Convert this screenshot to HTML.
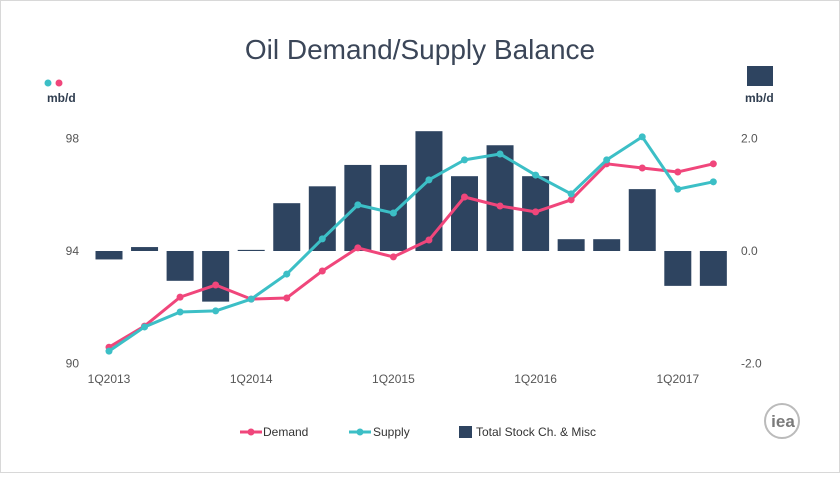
<!DOCTYPE html>
<html><head><meta charset="utf-8"><style>
body{margin:0;background:#fff;font-family:"Liberation Sans",sans-serif;}
#wrap{position:relative;width:838px;height:471px;border:1px solid #d8d8d8;background:#fff;}
</style></head><body>
<div id="wrap">
<svg id="chart" width="838" height="471" xmlns="http://www.w3.org/2000/svg"></svg>
</div>
<script>
const categories=["1Q2013","2Q2013","3Q2013","4Q2013","1Q2014","2Q2014","3Q2014","4Q2014","1Q2015","2Q2015","3Q2015","4Q2015","1Q2016","2Q2016","3Q2016","4Q2016","1Q2017","2Q2017"];
const demand=[90.58,91.33,92.36,92.79,92.29,92.33,93.29,94.11,93.79,94.39,95.92,95.6,95.39,95.82,97.1,96.95,96.81,97.1];
const supply=[90.44,91.3,91.83,91.87,92.29,93.18,94.43,95.64,95.35,96.53,97.24,97.45,96.7,96.03,97.24,98.06,96.2,96.46];
const stockChange=[-0.15,0.07,-0.53,-0.9,0.02,0.85,1.15,1.53,1.53,2.13,1.33,1.88,1.33,0.21,0.21,1.1,-0.62,-0.62];
const leftTicks=[90,94,98];
const rightTicks=[-2.0,0.0,2.0];
const xTickLabels=["1Q2013","1Q2014","1Q2015","1Q2016","1Q2017"];

const svg=document.getElementById('chart');
const NS="http://www.w3.org/2000/svg";
function mk(tag,attrs,name,txt){const e=document.createElementNS(NS,tag);for(const k in attrs)e.setAttribute(k,attrs[k]);


if(txt!==undefined)e.textContent=txt;svg.appendChild(e);return e;}
const x0=108,dx=35.55;
const xs=i=>x0+i*dx;
const yL=v=>250-(v-94)*28.125;
const yR=v=>250-v*56.25;

mk('text',{x:419,y:58,'text-anchor':'middle','font-size':28,fill:'#3b4658'},'chart-title','Oil Demand/Supply Balance');
mk('text',{x:46,y:101,'font-size':12,'font-weight':'bold',fill:'#2f3d4f'},'left-axis-unit','mb/d');
mk('text',{x:744,y:101,'font-size':12,'font-weight':'bold',fill:'#2f3d4f'},'right-axis-unit','mb/d');
mk('circle',{cx:47,cy:82,r:3.5,fill:'#3cbfc6'},'left-unit-supply-dot');
mk('circle',{cx:58,cy:82,r:3.5,fill:'#f0467b'},'left-unit-demand-dot');
mk('rect',{x:746,y:65,width:26,height:20,fill:'#2e4460'},'right-unit-bar-icon');

leftTicks.forEach(t=>{mk('text',{x:78,y:yL(t)+4,'text-anchor':'end','font-size':12,fill:'#555'},'left-tick-label',String(t));});
rightTicks.forEach(t=>{mk('text',{x:740,y:yR(t)+4,'font-size':12,fill:'#555'},'right-tick-label',t.toFixed(1));});
xTickLabels.forEach(l=>{const i=categories.indexOf(l);mk('text',{x:xs(i),y:382,'text-anchor':'middle','font-size':12,fill:'#555'},'x-tick-label',l);});

stockChange.forEach((v,i)=>{const y=Math.min(yR(v),yR(0));const h=Math.max(Math.abs(yR(v)-yR(0)),1);
mk('rect',{x:xs(i)-13.5,y:y,width:27,height:h,fill:'#2e4460'},'bar-'+categories[i]);});

function line(data,color,name){const pts=data.map((v,i)=>xs(i)+','+yL(v)).join(' ');
mk('polyline',{points:pts,fill:'none',stroke:color,'stroke-width':3,'stroke-linejoin':'round'},name+'-line');
data.forEach((v,i)=>mk('circle',{cx:xs(i),cy:yL(v),r:3.5,fill:color},name+'-point'));}
line(demand,'#f0467b','demand');
line(supply,'#3cbfc6','supply');

// legend
mk('line',{x1:239,y1:431,x2:261,y2:431,stroke:'#f0467b','stroke-width':3},'legend-demand-swatch');
mk('circle',{cx:250,cy:431,r:3.5,fill:'#f0467b'},'legend-demand-dot');
mk('text',{x:262,y:435,'font-size':12,fill:'#333'},'legend-demand-label','Demand');
mk('line',{x1:348,y1:431,x2:370,y2:431,stroke:'#3cbfc6','stroke-width':3},'legend-supply-swatch');
mk('circle',{cx:359,cy:431,r:3.5,fill:'#3cbfc6'},'legend-supply-dot');
mk('text',{x:372,y:435,'font-size':12,fill:'#333'},'legend-supply-label','Supply');
mk('rect',{x:458,y:425,width:13,height:12,fill:'#2e4460'},'legend-stock-swatch');
mk('text',{x:475,y:435,'font-size':12,fill:'#333'},'legend-stock-label','Total Stock Ch. & Misc');

// iea logo
mk('circle',{cx:781,cy:420,r:17,fill:'none',stroke:'#bbb','stroke-width':2},'iea-logo-ring');
mk('text',{x:782,y:426,'text-anchor':'middle','font-size':17,'font-weight':'bold',fill:'#7a7a7a'},'iea-logo','iea');
</script>
</body></html>
